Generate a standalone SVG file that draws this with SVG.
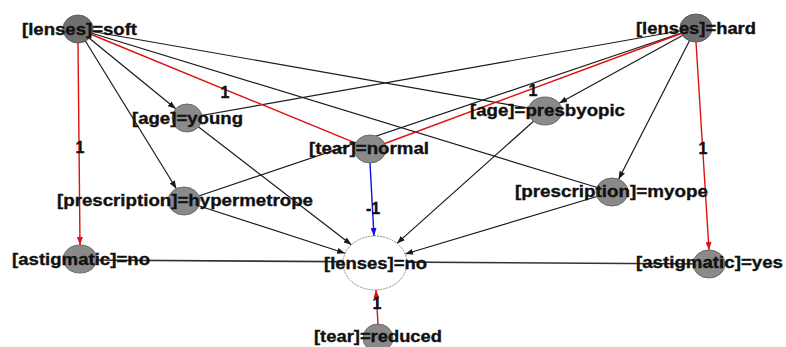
<svg xmlns="http://www.w3.org/2000/svg" width="786" height="347" viewBox="0 0 786 347">
<style>
.e{stroke:#1a1a1a;stroke-width:1.2;fill:none}
.r{stroke:#e01010;stroke-width:1.4;fill:none}
.b{stroke:#1010e0;stroke-width:1.4;fill:none}
.h{stroke:#333;stroke-width:1.6;fill:none}
.n{fill:#8a8a8a;stroke:#6a6a6a;stroke-width:1}
.d{fill:#707070;stroke:#5a5a5a;stroke-width:1}
.w{fill:#fff;stroke:#888;stroke-width:1;stroke-dasharray:2 1}
text{font-family:"Liberation Sans",Arial,sans-serif;font-weight:bold;font-size:16.5px;fill:#111;stroke:#111;stroke-width:0.35}
.l{text-anchor:middle;font-size:16px}
</style>
<defs>
<marker id="ak" markerUnits="userSpaceOnUse" markerWidth="8" markerHeight="6" refX="8" refY="3" orient="auto"><path d="M0,0 L8,3 L0,6 z" fill="#1a1a1a"/></marker>
<marker id="ar" markerUnits="userSpaceOnUse" markerWidth="8" markerHeight="6" refX="8" refY="3" orient="auto"><path d="M0,0 L8,3 L0,6 z" fill="#e01010"/></marker>
<marker id="ab" markerUnits="userSpaceOnUse" markerWidth="8" markerHeight="6" refX="8" refY="3" orient="auto"><path d="M0,0 L8,3 L0,6 z" fill="#1010e0"/></marker>
</defs>
<g id="connectors">
<line class="e" x1="78" y1="29" x2="545" y2="111"/>
<line class="e" x1="78" y1="29" x2="612" y2="192"/>
<line class="e" x1="696" y1="28" x2="187" y2="118"/>
<line class="e" x1="696" y1="28" x2="184" y2="201"/>
<line class="h" x1="80" y1="260" x2="709" y2="264"/>
<line class="e" x1="78" y1="29" x2="175.8" y2="108.8" marker-end="url(#ak)"/>
<line class="e" x1="78" y1="29" x2="176.4" y2="188.7" marker-end="url(#ak)"/>
<line class="r" x1="78" y1="43" x2="80" y2="245" marker-end="url(#ar)"/>
<line class="r" x1="78" y1="29" x2="355.7" y2="143.1"/>
<line class="r" x1="696" y1="42" x2="709" y2="250" marker-end="url(#ar)"/>
<line class="e" x1="696" y1="28" x2="618.6" y2="179.2" marker-end="url(#ak)"/>
<line class="e" x1="696" y1="28" x2="559.1" y2="103.2" marker-end="url(#ak)"/>
<line class="r" x1="696" y1="28" x2="370" y2="149"/>
<line class="b" x1="370" y1="163" x2="374" y2="236" marker-end="url(#ab)"/>
<line class="r" x1="378" y1="324" x2="376" y2="290" marker-end="url(#ar)"/>
<line class="e" x1="187" y1="118" x2="351.4" y2="244.8" marker-end="url(#ak)"/>
<line class="e" x1="184" y1="201" x2="345.1" y2="253.3" marker-end="url(#ak)"/>
<line class="e" x1="545" y1="111" x2="396.9" y2="243.4" marker-end="url(#ak)"/>
<line class="e" x1="612" y1="192" x2="405.2" y2="254" marker-end="url(#ak)"/>
</g>
<g id="n-lenses-soft"><ellipse class="d" cx="78" cy="29" rx="15" ry="14"/><text x="22" y="34.5" textLength="115" lengthAdjust="spacingAndGlyphs">[lenses]=soft</text></g>
<g id="n-lenses-hard"><ellipse class="d" cx="696" cy="28" rx="16" ry="14"/><text x="636" y="33.5" textLength="120" lengthAdjust="spacingAndGlyphs">[lenses]=hard</text></g>
<g id="n-age-young"><ellipse class="n" cx="187" cy="118" rx="15" ry="14"/><text x="132" y="123.5" textLength="111" lengthAdjust="spacingAndGlyphs">[age]=young</text></g>
<g id="n-age-presbyopic"><ellipse class="n" cx="545" cy="111" rx="17" ry="14"/><text x="470" y="115.5" textLength="155" lengthAdjust="spacingAndGlyphs">[age]=presbyopic</text></g>
<g id="n-tear-normal"><ellipse class="n" cx="370" cy="149" rx="16" ry="14"/><text x="309" y="153.5" textLength="120" lengthAdjust="spacingAndGlyphs">[tear]=normal</text></g>
<g id="n-prescription-hypermetrope"><ellipse class="n" cx="184" cy="201" rx="16" ry="14"/><text x="57" y="205.5" textLength="256" lengthAdjust="spacingAndGlyphs">[prescription]=hypermetrope</text></g>
<g id="n-prescription-myope"><ellipse class="n" cx="612" cy="192" rx="16" ry="14"/><text x="515" y="197" textLength="193" lengthAdjust="spacingAndGlyphs">[prescription]=myope</text></g>
<g id="n-astigmatic-no"><ellipse class="n" cx="80" cy="259" rx="17" ry="14"/><text x="12" y="264.5" textLength="138" lengthAdjust="spacingAndGlyphs">[astigmatic]=no</text></g>
<g id="n-astigmatic-yes"><ellipse class="n" cx="709" cy="264" rx="16" ry="14"/><text x="636" y="267.5" textLength="147" lengthAdjust="spacingAndGlyphs">[astigmatic]=yes</text></g>
<g id="n-lenses-no"><ellipse class="w" cx="375" cy="263" rx="32" ry="27"/><text x="324" y="268.5" textLength="103" lengthAdjust="spacingAndGlyphs">[lenses]=no</text></g>
<g id="n-tear-reduced"><ellipse class="n" cx="378" cy="338" rx="15" ry="14"/><text x="314" y="341.5" textLength="128" lengthAdjust="spacingAndGlyphs">[tear]=reduced</text></g>
<g id="edge-labels">
<text class="l" x="225" y="98">1</text>
<text class="l" x="80" y="153">1</text>
<text class="l" x="533" y="96">1</text>
<text class="l" x="703" y="154">1</text>
<text class="l" x="373" y="214">-1</text>
<text class="l" x="377" y="309">1</text>
</g>
</svg>
